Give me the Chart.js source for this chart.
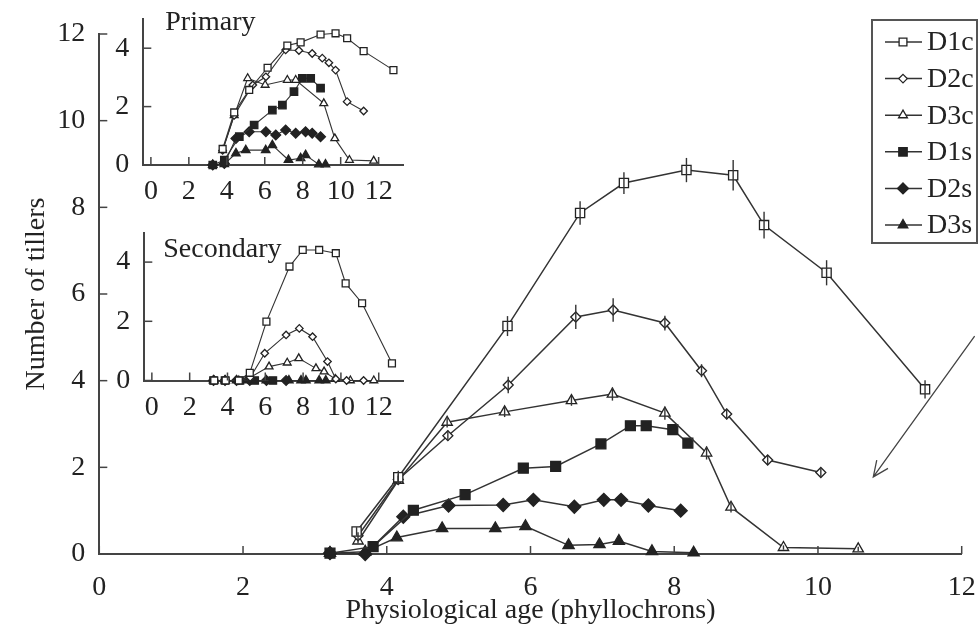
<!DOCTYPE html>
<html>
<head>
<meta charset="utf-8">
<script src="https://cdn.jsdelivr.net/npm/chart.js@4.4.0/dist/chart.umd.min.js"></script>
<style>
  html, body { margin: 0; padding: 0; background: #fff; }
  #wrap { position: relative; width: 979px; height: 638px; overflow: hidden; }
  #wrap canvas { position: absolute; }
</style>
</head>
<body>
<div id="wrap">
  <canvas id="mainChart" width="979" height="638" style="left:0;top:0"></canvas>
  <canvas id="primaryChart" width="330" height="200" style="left:90px;top:0"></canvas>
  <canvas id="secondaryChart" width="330" height="205" style="left:90px;top:215px"></canvas>
</div>
<script>
// ---- data ----
const seriesNames = ['D1c', 'D2c', 'D3c', 'D1s', 'D2s', 'D3s'];
const mainXTicks = [0, 2, 4, 6, 8, 10, 12];
const mainYTicks = [0, 2, 4, 6, 8, 10, 12];
const insetXTicks = [0, 2, 4, 6, 8, 10, 12];
const insetYTicks = [0, 2, 4];

// main panel: physiological age vs number of tillers
const d1cAge = [3.58, 4.16, 5.68, 6.69, 7.30, 8.17, 8.82, 9.25, 10.12, 11.49];
const d1cTillers = [0.52, 1.77, 5.26, 7.87, 8.56, 8.86, 8.74, 7.59, 6.49, 3.80];
const d1cErr = [0.10, 0.15, 0.23, 0.27, 0.25, 0.28, 0.35, 0.31, 0.29, 0.21];
const d2cAge = [3.60, 4.16, 4.85, 5.69, 6.63, 7.15, 7.87, 8.38, 8.73, 9.30, 10.04];
const d2cTillers = [0.42, 1.72, 2.73, 3.90, 5.47, 5.63, 5.33, 4.23, 3.23, 2.17, 1.88];
const d2cErr = [0.08, 0.12, 0.12, 0.19, 0.28, 0.27, 0.17, 0.15, 0.12, 0.10, 0.10];
const d3cAge = [3.60, 4.16, 4.84, 5.64, 6.57, 7.14, 7.87, 8.45, 8.79, 9.52, 10.56];
const d3cTillers = [0.30, 1.70, 3.04, 3.28, 3.54, 3.69, 3.25, 2.33, 1.08, 0.15, 0.12];
const d3cErr = [0.05, 0.10, 0.12, 0.12, 0.12, 0.15, 0.15, 0.15, 0.12, 0.05, 0.05];
const d1sAge = [3.21, 3.81, 4.37, 5.09, 5.90, 6.35, 6.98, 7.39, 7.61, 7.98, 8.19];
const d1sTillers = [0.02, 0.17, 1.01, 1.37, 1.98, 2.02, 2.54, 2.96, 2.96, 2.87, 2.56];
const d2sAge = [3.21, 3.70, 4.23, 4.86, 5.62, 6.04, 6.61, 7.02, 7.26, 7.64, 8.09];
const d2sTillers = [0.02, 0.00, 0.86, 1.12, 1.13, 1.25, 1.09, 1.25, 1.25, 1.12, 1.00];
const d3sAge = [3.21, 3.70, 4.14, 4.77, 5.51, 5.93, 6.53, 6.96, 7.23, 7.69, 8.27];
const d3sTillers = [0.02, 0.05, 0.38, 0.59, 0.59, 0.64, 0.20, 0.22, 0.30, 0.06, 0.03];

// inset: primary tillers
const p1cAge = [3.78, 4.39, 5.18, 6.15, 7.19, 7.89, 8.94, 9.73, 10.34, 11.21, 12.78];
const p1cTillers = [0.55, 1.80, 2.57, 3.33, 4.09, 4.20, 4.47, 4.51, 4.34, 3.90, 3.25];
const p2cAge = [3.78, 4.39, 5.37, 6.06, 7.10, 7.80, 8.50, 9.03, 9.38, 9.73, 10.34, 11.21];
const p2cTillers = [0.50, 1.70, 2.74, 3.02, 3.94, 3.92, 3.82, 3.66, 3.50, 3.25, 2.17, 1.85];
const p3cAge = [3.78, 4.39, 5.10, 6.02, 7.19, 7.63, 9.11, 9.69, 10.46, 11.74];
const p3cTillers = [0.50, 1.70, 2.97, 2.74, 2.91, 2.91, 2.11, 0.91, 0.17, 0.14];
const p1sAge = [3.26, 3.87, 4.66, 5.44, 6.40, 6.93, 7.54, 7.98, 8.42, 8.94];
const p1sTillers = [0.00, 0.17, 0.97, 1.37, 1.88, 2.05, 2.51, 2.97, 2.97, 2.63];
const p2sAge = [3.26, 3.87, 4.48, 5.18, 6.06, 6.58, 7.10, 7.63, 8.15, 8.50, 8.94];
const p2sTillers = [0.00, 0.05, 0.91, 1.14, 1.14, 1.03, 1.20, 1.09, 1.14, 1.09, 0.97];
const p3sAge = [3.26, 3.87, 4.48, 5.00, 6.05, 6.40, 7.25, 7.89, 8.15, 8.85, 9.20];
const p3sTillers = [0.00, 0.03, 0.40, 0.51, 0.51, 0.68, 0.17, 0.23, 0.34, 0.02, 0.02];

// inset: secondary tillers
const s1cAge = [3.30, 3.90, 4.60, 5.18, 6.06, 7.28, 7.98, 8.85, 9.73, 10.25, 11.12, 12.70];
const s1cTillers = [0.00, 0.00, 0.00, 0.26, 1.99, 3.85, 4.41, 4.41, 4.30, 3.28, 2.61, 0.58];
const s2cAge = [3.30, 3.90, 4.60, 5.20, 5.97, 7.10, 7.80, 8.50, 9.29, 9.73, 10.30, 11.20];
const s2cTillers = [0.00, 0.00, 0.00, 0.10, 0.92, 1.54, 1.76, 1.48, 0.64, 0.05, 0.00, 0.00];
const s3cAge = [3.30, 3.90, 4.60, 5.20, 6.20, 7.16, 7.77, 8.68, 9.11, 9.70, 10.50, 11.74];
const s3cTillers = [0.00, 0.00, 0.00, 0.10, 0.47, 0.60, 0.75, 0.41, 0.30, 0.05, 0.00, 0.00];
const s1sAge = [3.26, 3.87, 4.66, 5.44, 6.40];
const s1sTillers = [0.00, 0.00, 0.00, 0.00, 0.00];
const s2sAge = [3.26, 3.87, 4.48, 5.18, 6.06, 7.10];
const s2sTillers = [0.00, 0.00, 0.00, 0.00, 0.00, 0.00];
const s3sAge = [3.26, 3.87, 4.48, 5.00, 6.05, 7.25, 7.89, 8.15, 8.85, 9.20];
const s3sTillers = [0.00, 0.00, 0.00, 0.00, 0.00, 0.00, 0.00, 0.00, 0.00, 0.00];

// arrow annotation (data units of the main panel)
const arrowFrom = [12.18, 5.03];
const arrowTo = [10.77, 1.78];

// ---- styling ----
const FONT = "'Liberation Serif', 'Times New Roman', serif";
const FSIZE = 28;
const INK = '#222';
const AXIS = '#444';
const markerStyle = [
  { shape: 'rect', filled: false, r: 6.5 },
  { shape: 'rectRot', filled: false, r: 5 },
  { shape: 'triangle', filled: false, r: 6 },
  { shape: 'rect', filled: true, r: 7 },
  { shape: 'rectRot', filled: true, r: 6.5 },
  { shape: 'triangle', filled: true, r: 6.5 }
];

function pts(xs, ys) {
  return xs.map((x, i) => ({ x: x, y: ys[i] }));
}

function makeDataset(i, xs, ys, scale, errs) {
  const m = markerStyle[i];
  const ds = {
    label: seriesNames[i],
    data: pts(xs, ys),
    borderColor: '#333',
    borderWidth: 1.5 * scale,
    pointStyle: m.shape,
    pointRadius: m.r * scale,
    pointBackgroundColor: m.filled ? INK : '#fff',
    pointBorderColor: INK,
    pointBorderWidth: 1.3,
    tension: 0,
    clip: false
  };
  if (errs) ds.errors = errs;
  return ds;
}

function drawMarker(ctx, shape, x, y, r) {
  ctx.beginPath();
  if (shape === 'rect') {
    const s = r * Math.SQRT1_2;
    ctx.rect(x - s, y - s, 2 * s, 2 * s);
  } else if (shape === 'rectRot') {
    ctx.moveTo(x, y - r); ctx.lineTo(x + r, y); ctx.lineTo(x, y + r); ctx.lineTo(x - r, y);
    ctx.closePath();
  } else {
    const h = Math.PI * 2 / 3;
    ctx.moveTo(x, y - r);
    ctx.lineTo(x + Math.sin(h) * r, y - Math.cos(h) * r);
    ctx.lineTo(x - Math.sin(h) * r, y - Math.cos(h) * r);
    ctx.closePath();
  }
  ctx.fill();
  ctx.stroke();
}

// ---- plugins ----
const innerTicks = {
  id: 'innerTicks',
  afterDraw(chart, args, opts) {
    const { ctx, chartArea } = chart;
    const { x, y } = chart.scales;
    const len = opts.length || 8;
    ctx.save();
    ctx.strokeStyle = AXIS;
    ctx.lineWidth = 1.5;
    x.ticks.forEach(t => {
      const px = x.getPixelForValue(t.value);
      ctx.beginPath(); ctx.moveTo(px, chartArea.bottom); ctx.lineTo(px, chartArea.bottom - len); ctx.stroke();
    });
    y.ticks.forEach(t => {
      const py = y.getPixelForValue(t.value);
      ctx.beginPath(); ctx.moveTo(chartArea.left, py); ctx.lineTo(chartArea.left + len, py); ctx.stroke();
    });
    ctx.restore();
  }
};

const errorBars = {
  id: 'errorBars',
  afterDatasetsDraw(chart) {
    const ctx = chart.ctx;
    const { x, y } = chart.scales;
    ctx.save();
    ctx.strokeStyle = '#333';
    ctx.lineWidth = 1.4;
    chart.data.datasets.forEach(ds => {
      if (!ds.errors) return;
      ds.data.forEach((p, i) => {
        const px = x.getPixelForValue(p.x);
        ctx.beginPath();
        ctx.moveTo(px, y.getPixelForValue(p.y - ds.errors[i]));
        ctx.lineTo(px, y.getPixelForValue(p.y + ds.errors[i]));
        ctx.stroke();
      });
    });
    ctx.restore();
  }
};

const boxLegend = {
  id: 'boxLegend',
  afterDraw(chart) {
    const ctx = chart.ctx;
    const left = 872, top = 20, w = 105, h = 223;
    ctx.save();
    ctx.strokeStyle = '#555';
    ctx.lineWidth = 2;
    ctx.strokeRect(left, top, w, h);
    ctx.font = FSIZE + 'px ' + FONT;
    ctx.textBaseline = 'middle';
    ctx.textAlign = 'left';
    chart.data.datasets.forEach((ds, i) => {
      const cy = top + 22 + i * 36.6;
      ctx.strokeStyle = '#333';
      ctx.lineWidth = 1.5;
      ctx.beginPath(); ctx.moveTo(left + 13, cy); ctx.lineTo(left + 50, cy); ctx.stroke();
      ctx.fillStyle = ds.pointBackgroundColor;
      ctx.strokeStyle = INK;
      ctx.lineWidth = 1.3;
      drawMarker(ctx, ds.pointStyle, left + 31, cy, ds.pointRadius * 0.85);
      ctx.fillStyle = INK;
      ctx.fillText(ds.label, left + 55, cy + 1);
    });
    ctx.restore();
  }
};

const arrow = {
  id: 'arrow',
  afterDraw(chart) {
    const ctx = chart.ctx;
    const { x, y } = chart.scales;
    const x0 = x.getPixelForValue(arrowFrom[0]), y0 = y.getPixelForValue(arrowFrom[1]);
    const x1 = x.getPixelForValue(arrowTo[0]), y1 = y.getPixelForValue(arrowTo[1]);
    const ang = Math.atan2(y1 - y0, x1 - x0);
    const head = 17, spread = 0.42;
    ctx.save();
    ctx.strokeStyle = '#444';
    ctx.lineWidth = 1.3;
    ctx.beginPath();
    ctx.moveTo(x0, y0); ctx.lineTo(x1, y1);
    ctx.moveTo(x1 - head * Math.cos(ang - spread), y1 - head * Math.sin(ang - spread));
    ctx.lineTo(x1, y1);
    ctx.lineTo(x1 - head * Math.cos(ang + spread), y1 - head * Math.sin(ang + spread));
    ctx.stroke();
    ctx.restore();
  }
};

const panelLabel = {
  id: 'panelLabel',
  afterDraw(chart, args, opts) {
    const ctx = chart.ctx;
    ctx.save();
    ctx.font = FSIZE + 'px ' + FONT;
    ctx.fillStyle = INK;
    ctx.textBaseline = 'alphabetic';
    ctx.fillText(opts.text, chart.chartArea.left + opts.dx, chart.chartArea.top + opts.dy);
    ctx.restore();
  }
};

function setTicks(values) {
  return scale => { scale.ticks = values.map(v => ({ value: v })); };
}

// fixed axis box sizes so the plot areas land where the reference has them
function axisOpts(min, max, ticks, size, horizontal, pad, extra) {
  const o = {
    type: 'linear',
    min: min,
    max: max,
    afterBuildTicks: setTicks(ticks),
    afterFit: scale => {
      if (horizontal) scale.height = size; else scale.width = size;
      scale.paddingTop = 0; scale.paddingBottom = 0;
      scale.paddingLeft = 0; scale.paddingRight = 0;
    },
    grid: { display: false, drawTicks: false },
    border: { display: true, color: AXIS, width: 2 },
    ticks: {
      font: { family: FONT, size: FSIZE },
      color: INK,
      padding: pad,
      autoSkip: false,
      maxRotation: 0
    }
  };
  return Object.assign(o, extra || {});
}

// ---- main chart ----
new Chart(document.getElementById('mainChart'), {
  type: 'line',
  data: {
    datasets: [
      makeDataset(0, d1cAge, d1cTillers, 1, d1cErr),
      makeDataset(1, d2cAge, d2cTillers, 1, d2cErr),
      makeDataset(2, d3cAge, d3cTillers, 1, d3cErr),
      makeDataset(3, d1sAge, d1sTillers, 1),
      makeDataset(4, d2sAge, d2sTillers, 1),
      makeDataset(5, d3sAge, d3sTillers, 1)
    ]
  },
  options: {
    responsive: false,
    animation: false,
    events: [],
    layout: { padding: { top: 34, right: 17.3, left: 0, bottom: 0 } },
    plugins: {
      legend: { display: false },
      tooltip: { enabled: false },
      innerTicks: { length: 8 }
    },
    scales: {
      x: axisOpts(0, 12, mainXTicks, 84, true, 17, {
        title: { display: true, text: 'Physiological age (phyllochrons)', color: INK,
                 font: { family: FONT, size: FSIZE }, padding: { top: 0, bottom: 11 } }
      }),
      y: axisOpts(0, 12, mainYTicks, 99.3, false, 14, {
        title: { display: true, text: 'Number of tillers', color: INK,
                 font: { family: FONT, size: FSIZE }, padding: { top: 20, bottom: 0 } }
      })
    }
  },
  plugins: [innerTicks, errorBars, boxLegend, arrow]
});

// ---- insets ----
function insetChart(id, sets, label, yWidth, xHeight, padTop) {
  return new Chart(document.getElementById(id), {
    type: 'line',
    data: { datasets: sets },
    options: {
      responsive: false,
      animation: false,
      events: [],
      layout: { padding: { top: padTop, right: 16.7, left: 0, bottom: 0 } },
      plugins: {
        legend: { display: false },
        tooltip: { enabled: false },
        innerTicks: { length: 8 },
        panelLabel: label
      },
      scales: {
        x: axisOpts(-0.4, 13.3, insetXTicks, xHeight, true, 10),
        y: axisOpts(0, 5, insetYTicks, yWidth, false, 14)
      }
    },
    plugins: [innerTicks, panelLabel]
  });
}

const sc = 0.75;
insetChart('primaryChart', [
  makeDataset(0, p1cAge, p1cTillers, sc),
  makeDataset(1, p2cAge, p2cTillers, sc),
  makeDataset(2, p3cAge, p3cTillers, sc),
  makeDataset(3, p1sAge, p1sTillers, sc),
  makeDataset(4, p2sAge, p2sTillers, sc),
  makeDataset(5, p3sAge, p3sTillers, sc)
], { text: 'Primary', dx: 22, dy: 11 }, 53.3, 35, 19);

insetChart('secondaryChart', [
  makeDataset(0, s1cAge, s1cTillers, sc),
  makeDataset(1, s2cAge, s2cTillers, sc),
  makeDataset(2, s3cAge, s3cTillers, sc),
  makeDataset(3, s1sAge, s1sTillers, sc),
  makeDataset(4, s2sAge, s2sTillers, sc),
  makeDataset(5, s3sAge, s3sTillers, sc)
], { text: 'Secondary', dx: 19, dy: 24.5 }, 54.3, 39.5, 17.5);
</script>
</body>
</html>
